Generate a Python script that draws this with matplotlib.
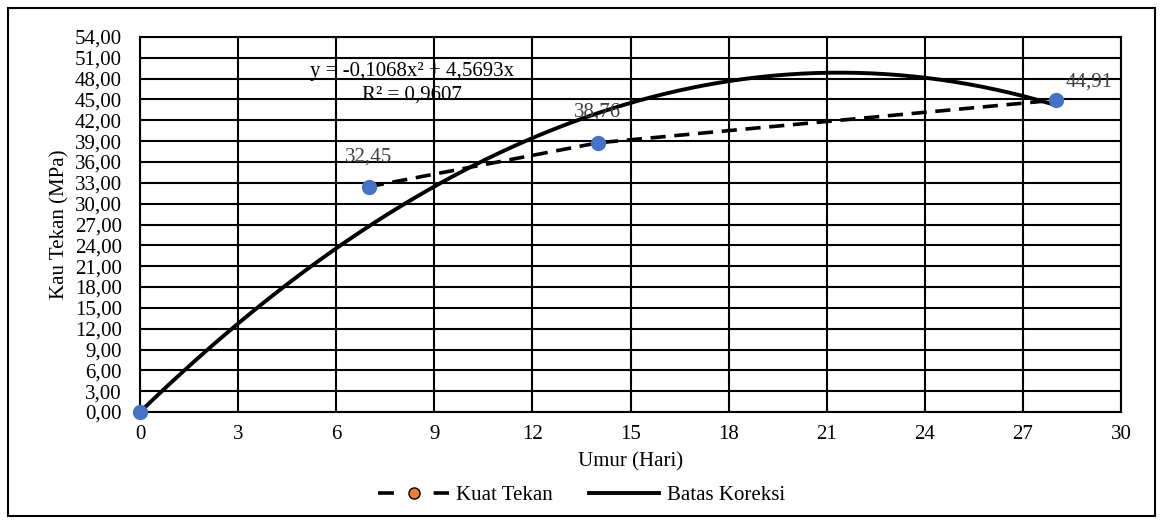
import numpy as np
import matplotlib.pyplot as plt
from matplotlib.lines import Line2D
from matplotlib.patches import Rectangle

plt.rcParams['font.family'] = ['Liberation Serif', 'DejaVu Serif']

umur = [0, 7, 14, 28]
kuat = [0.0, 32.45, 38.76, 44.91]
labels = ["", "32,45", "38,76", "44,91"]
r2_text = "0,9607"  # as printed on the chart

# trendline: polynomial order 2, intercept fixed at 0 (as in the Excel chart)
x = np.array(umur, dtype=float)
y = np.array(kuat)
A = np.column_stack([x ** 2, x])
coef, *_ = np.linalg.lstsq(A, y, rcond=None)
xs = np.linspace(0, 28, 200)
ys = coef[0] * xs ** 2 + coef[1] * xs

fs = 15
fig = plt.figure(figsize=(11.63, 5.24), dpi=100)
ax = fig.add_axes([0.1204, 0.2137, 0.8435, 0.7157])

ax.plot(xs, ys, color="black", lw=2.8, zorder=3)
ax.plot(umur[1:], kuat[1:], color="black", lw=2.6, ls=(0, (4.2, 2.4)), zorder=3)
ax.plot(umur, kuat, "o", color="#4472C4", ms=10, zorder=4, clip_on=False)

offsets = [(0, 0), (0, 21), (0, 22), (24, 13)]
for xi, yi, lab, off in zip(umur, kuat, labels, offsets):
    if lab:
        ax.annotate(lab, (xi, yi), xytext=off, textcoords="offset points",
                    ha="center", va="center", fontsize=fs, color="#404040", zorder=5)

def fmt(v):
    return f"{v:.4f}".replace(".", ",")

ax.text(8.32, 48.96, f"y = {fmt(coef[0])}x² + {fmt(coef[1])}x", ha="center", va="center",
        fontsize=fs, zorder=5)
ax.text(8.32, 45.7, f"R² = {r2_text}", ha="center", va="center", fontsize=fs, zorder=5)

ax.set_xlim(0, 30)
ax.set_ylim(0, 54)
ax.set_xticks(range(0, 31, 3))
ax.set_yticks(np.arange(0, 55, 3))
ax.set_yticklabels([f"{v:.2f}".replace(".", ",") for v in np.arange(0, 55, 3)])
ax.tick_params(length=0, labelsize=fs)
ax.tick_params(axis="y", pad=13)
ax.tick_params(axis="x", pad=9)
ax.grid(True, color="black", lw=1.5)
ax.set_axisbelow(True)
for s in ax.spines.values():
    s.set_linewidth(1.5)

ax.set_xlabel("Umur (Hari)", fontsize=fs, labelpad=6)
ax.set_ylabel("Kau Tekan (MPa)", fontsize=fs, labelpad=4)

handles = [Line2D([], [], color="black", lw=2.6, ls=(0, (4.4, 11)), marker="o",
                  mfc="#ED7D31", mec="black", ms=8),
           Line2D([], [], color="black", lw=2.8)]
fig.legend(handles, ["Kuat Tekan", "Batas Koreksi"], loc="center", bbox_to_anchor=(0.5, 0.055),
           ncol=2, frameon=False, prop={"family": "Liberation Serif", "size": fs},
           handlelength=3.4, handletextpad=0.35, columnspacing=1.7)

fig.add_artist(Rectangle((0.007, 0.015), 0.986, 0.97, transform=fig.transFigure,
                         fill=False, ec="black", lw=1.5))

fig.savefig("out.png", dpi=100)
